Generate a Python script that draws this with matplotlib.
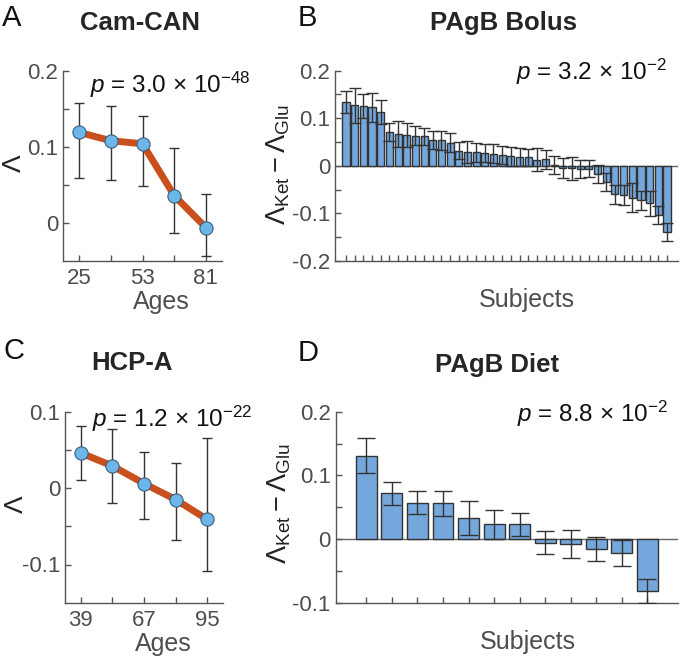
import numpy as np
import matplotlib
matplotlib.use("Agg")
import matplotlib.pyplot as plt

plt.rcParams['font.family'] = ['Liberation Sans', 'DejaVu Sans']
plt.rcParams['mathtext.fontset'] = 'custom'
plt.rcParams['mathtext.rm'] = 'Liberation Sans'
plt.rcParams['mathtext.it'] = 'Liberation Sans:italic'
plt.rcParams['mathtext.bf'] = 'Liberation Sans:bold'

# Cam-CAN (panel A)
camcan_ages = [25, 39, 53, 67, 81]
camcan_mean = [0.119, 0.108, 0.104, 0.036, -0.006]
camcan_low = [0.059, 0.056, 0.049, -0.013, -0.043]
camcan_high = [0.157, 0.153, 0.141, 0.098, 0.038]

# HCP-A (panel C)
hcpa_ages = [39, 53, 67, 81, 95]
hcpa_mean = [0.046, 0.029, 0.006, -0.015, -0.041]
hcpa_low = [0.011, -0.020, -0.041, -0.068, -0.109]
hcpa_high = [0.081, 0.077, 0.047, 0.033, 0.065]

# PAgB Bolus (panel B), sorted subjects
bolus_mean = [0.134, 0.127, 0.125, 0.123, 0.113, 0.071, 0.067, 0.065, 0.063, 0.062,
              0.055, 0.054, 0.049, 0.032, 0.029, 0.029, 0.027, 0.025, 0.022, 0.020,
              0.019, 0.018, 0.013, 0.014, 0.001, -0.004, -0.005, -0.006, -0.006, -0.017,
              -0.034, -0.060, -0.062, -0.067, -0.072, -0.079, -0.104, -0.140]
bolus_err = [0.023, 0.037, 0.025, 0.031, 0.026, 0.019, 0.027, 0.026, 0.020, 0.018,
             0.019, 0.020, 0.019, 0.018, 0.024, 0.020, 0.019, 0.020, 0.019, 0.020,
             0.019, 0.018, 0.024, 0.020, 0.019, 0.021, 0.024, 0.019, 0.018, 0.018,
             0.019, 0.020, 0.021, 0.030, 0.020, 0.026, 0.019, 0.019]

# PAgB Diet (panel D)
diet_mean = [0.131, 0.072, 0.057, 0.056, 0.033, 0.023, 0.023, -0.006, -0.008, -0.016, -0.022, -0.082]
diet_err = [0.027, 0.018, 0.018, 0.020, 0.026, 0.023, 0.018, 0.018, 0.022, 0.019, 0.020, 0.019]

W, H = 680, 659
line_col = '#C9501C'
dot_col = '#6DB6E9'
bar_col = '#74A7DB'
err_col = '#333333'
axis_col = '#555555'
tick_txt = '#4d4d4d'

fig = plt.figure(figsize=(W / 100, H / 100), dpi=100)


def px_axes(left, top, right, bottom):
    return fig.add_axes([left / W, 1 - bottom / H, (right - left) / W, (bottom - top) / H])


def style(ax):
    for s in ['top', 'right']:
        ax.spines[s].set_visible(False)
    for s in ['left', 'bottom']:
        ax.spines[s].set_color(axis_col)
        ax.spines[s].set_linewidth(1.0)
    ax.tick_params(direction='in', length=4.5, width=1.0, color=axis_col,
                   labelcolor=tick_txt, labelsize=16)
    ax.tick_params(axis='y', pad=3.5)
    ax.tick_params(axis='x', pad=5)


def line_panel(ax, ages, mean, low, high, xlim, ylim, yt, ytl, xtl):
    mean = np.array(mean)
    yerr = [mean - np.array(low), np.array(high) - mean]
    ax.errorbar(ages, mean, yerr=yerr, fmt='none', ecolor=err_col, elinewidth=1.0,
                capsize=3.5, capthick=1.0, zorder=2)
    ax.plot(ages, mean, color=line_col, lw=5, zorder=3, solid_capstyle='round')
    ax.plot(ages, mean, 'o', ms=9.5, mfc=dot_col, mec='#3a5f7a', mew=0.8, zorder=4)
    ax.set_xlim(*xlim)
    ax.set_ylim(*ylim)
    ax.set_yticks(yt)
    ax.set_yticklabels(ytl)
    ax.set_xticks(ages)
    ax.set_xticklabels(xtl)
    style(ax)
    ax.set_xlabel('Ages', fontsize=18, color=tick_txt, va='center')
    ax.xaxis.set_label_coords(0.62, -0.215)
    ax.set_ylabel('Λ', fontsize=19, color='#222222', rotation=90, va='center')
    ax.yaxis.set_label_coords(-0.31, 0.515)


def bar_panel(ax, mean, err, xlim, ylim, yt, ytl, cap):
    x = np.arange(1, len(mean) + 1)
    ax.axhline(0, color='#666666', lw=1.0, zorder=1)
    ax.bar(x, mean, width=0.82, color=bar_col, edgecolor='#333333', linewidth=1.0, zorder=2)
    ax.errorbar(x, mean, yerr=err, fmt='none', ecolor=err_col, elinewidth=1.0,
                capsize=cap, capthick=1.0, zorder=3)
    ax.set_xlim(*xlim)
    ax.set_ylim(*ylim)
    ax.set_yticks(yt)
    ax.set_yticklabels(ytl)
    ax.set_xticks(x)
    ax.set_xticklabels([])
    style(ax)
    ax.set_xlabel('Subjects', fontsize=18, color=tick_txt, va='center')
    ax.xaxis.set_label_coords(0.56, -0.205)
    ax.set_ylabel(r'$\Lambda_{\mathrm{Ket}} - \Lambda_{\mathrm{Glu}}$', fontsize=19.5,
                  color='#222222', va='center')


# panel A
axA = px_axes(63.3, 70.7, 221.7, 261)
line_panel(axA, camcan_ages, camcan_mean, camcan_low, camcan_high, (18, 88), (-0.05, 0.2),
           [0, 0.05, 0.1, 0.15, 0.2], ['0', '', '0.1', '', '0.2'], ['25', '', '53', '', '81'])

# panel C
axC = px_axes(65, 411.7, 223, 602.7)
line_panel(axC, hcpa_ages, hcpa_mean, hcpa_low, hcpa_high, (32, 102), (-0.15, 0.1),
           [-0.1, -0.05, 0, 0.05, 0.1], ['-0.1', '', '0', '', '0.1'], ['39', '', '67', '', '95'])

# panel B
axB = px_axes(335, 70.7, 678, 261)
bar_panel(axB, bolus_mean, bolus_err, (-0.27, 39.27), (-0.2, 0.2),
          np.arange(-0.2, 0.201, 0.05), ['-0.2', '', '-0.1', '', '0', '', '0.1', '', '0.2'], 4.5)
axB.yaxis.set_label_coords(-0.166, 0.505)

# panel D
axD = px_axes(335.7, 411.7, 678, 602.7)
bar_panel(axD, diet_mean, diet_err, (-0.2, 13.2), (-0.1, 0.2),
          np.arange(-0.1, 0.201, 0.05), ['-0.1', '', '0', '', '0.1', '', '0.2'], 6.5)
axD.yaxis.set_label_coords(-0.166, 0.52)


def ftext(x, y, s, **kw):
    fig.text(x / W, 1 - y / H, s, **kw)


# titles and panel letters
for x, y, s in [(140, 23, 'Cam-CAN'), (503, 23, 'PAgB Bolus'),
                (132, 363, 'HCP-A'), (497, 365, 'PAgB Diet')]:
    ftext(x, y, s, ha='center', va='center', fontsize=18.5, fontweight='bold', color='#262626')
for x, y, s in [(12, 18, 'A'), (307, 18, 'B'), (14, 351, 'C'), (308, 353, 'D')]:
    ftext(x, y, s, ha='center', va='center', fontsize=21, color='#111111')

# p-values
ptxt = dict(va='baseline', fontsize=17.5, color='#111111')
ftext(90, 93, r'$p$ = 3.0 × 10$^{-48}$', ha='left', **ptxt)
ftext(667, 80, r'$p$ = 3.2 × 10$^{-2}$', ha='right', **ptxt)
ftext(92, 426.7, r'$p$ = 1.2 × 10$^{-22}$', ha='left', **ptxt)
ftext(668, 421.7, r'$p$ = 8.8 × 10$^{-2}$', ha='right', **ptxt)

fig.savefig('out.png', dpi=100)
